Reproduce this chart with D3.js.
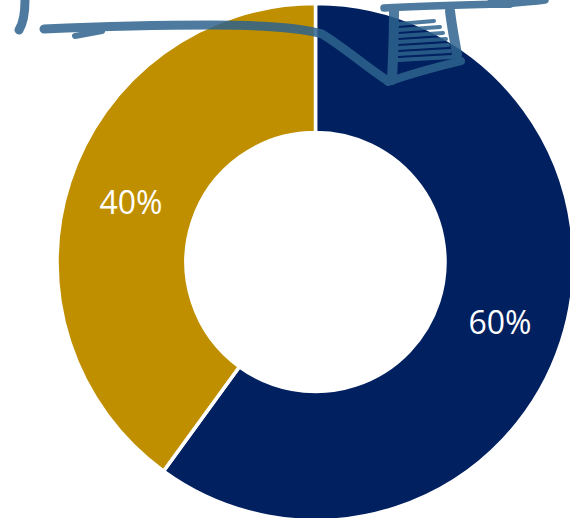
<!DOCTYPE html>
<html>
<head>
<meta charset="utf-8">
<script src="https://cdn.jsdelivr.net/npm/d3@7"></script>
<style>
  html, body { margin: 0; padding: 0; background: #ffffff; }
  svg { display: block; }
</style>
</head>
<body>
<svg id="chart" width="570" height="518"></svg>
<script>
// ---- data ----
const categories = ["Category A", "Category B"];
const values = [60, 40];
const labels = ["60%", "40%"];
const colors = ["#002060", "#BF8F00"];

// ---- hand-drawn annotation strokes (decoration overlay) ----
const annotationStrokes = [
  { d: "M25,0 C25,12 24,22 19,30", w: 9 },
  { d: "M44,29 C90,27 150,25 210,25 C260,25 300,27 322,34 C345,48 365,66 388,81", w: 9 },
  { d: "M75,36 L102,31", w: 6 },
  { d: "M388,82 C410,74 440,66 461,61", w: 8 },
  { d: "M394,11 C394,35 393,60 392,80", w: 10 },
  { d: "M384,8 C420,6 460,5 500,4 C515,3 530,2 545,0", w: 7.5 },
  { d: "M492,3 L510,3", w: 10 },
  { d: "M450,11 C452,28 455,42 457,55", w: 10 },
  { d: "M398,24 L434,21", w: 4 },
  { d: "M398,30 L440,27", w: 4 },
  { d: "M398,36 L443,33", w: 4 },
  { d: "M398,42 L446,39", w: 4 },
  { d: "M398,48 L448,45", w: 4 },
  { d: "M398,54 L450,51", w: 4 },
  { d: "M398,60 L452,57", w: 4 }
];

// ---- layout ----
const cx = 315.5, cy = 262;
const outerR = 258.5, innerR = 129.5;

const svg = d3.select("#chart");

const pie = d3.pie().sort(null).value(d => d.value);
const arcs = pie(categories.map((c, i) => ({ cat: c, value: values[i], label: labels[i], color: colors[i] })));

const arc = d3.arc().innerRadius(innerR).outerRadius(outerR);
const labelArc = d3.arc().innerRadius(131).outerRadius(257);

const g = svg.append("g").attr("transform", `translate(${cx},${cy})`);

g.selectAll("path.slice")
  .data(arcs)
  .join("path")
  .attr("class", "slice")
  .attr("d", arc)
  .attr("fill", d => d.data.color)
  .attr("stroke", "#ffffff")
  .attr("stroke-width", 3.5)
  .attr("stroke-linejoin", "miter");

g.selectAll("text.lbl")
  .data(arcs)
  .join("text")
  .attr("class", "lbl")
  .attr("transform", d => `translate(${labelArc.centroid(d)})`)
  .attr("text-anchor", "middle")
  .attr("dy", "0.38em")
  .attr("fill", "#ffffff")
  .style("font-family", "'Open Sans', 'Noto Sans', sans-serif")
  .style("font-size", "32px")
  .text(d => d.data.label);

// overlay annotation
const defs = svg.append("defs");
defs.append("filter").attr("id", "soft")
  .append("feGaussianBlur").attr("stdDeviation", 0.7);

svg.append("g")
  .attr("opacity", 0.85)
  .attr("filter", "url(#soft)")
  .selectAll("path")
  .data(annotationStrokes)
  .join("path")
  .attr("d", d => d.d)
  .attr("fill", "none")
  .attr("stroke", "#2e648e")
  .attr("stroke-width", d => d.w)
  .attr("stroke-linecap", "round")
  .attr("stroke-linejoin", "round");
</script>
</body>
</html>
